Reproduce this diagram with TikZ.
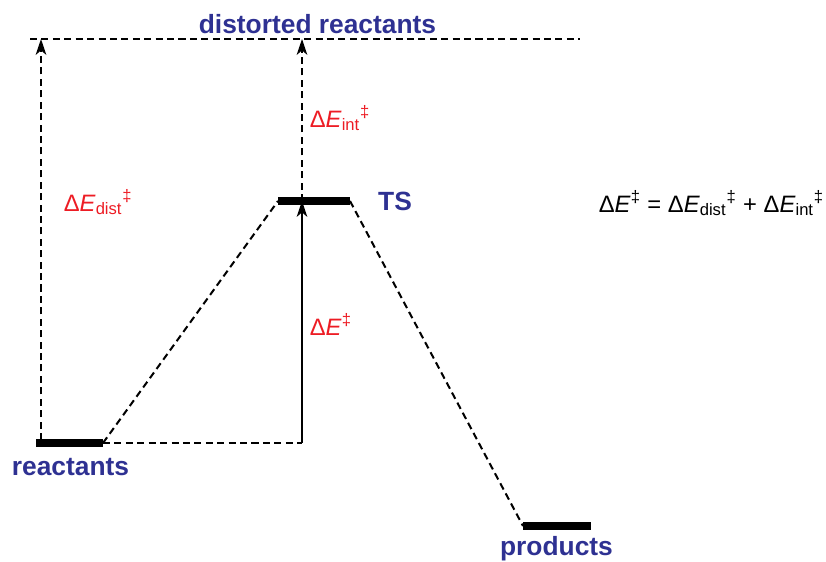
\documentclass[tikz,border=0pt]{standalone}
\usepackage{fontspec}
\setmainfont{Liberation Sans}
\usetikzlibrary{arrows.meta}
\definecolor{lblue}{RGB}{46,49,146}
\definecolor{lred}{RGB}{237,28,36}
\newcommand{\dEsub}[1]{Δ\textit{E}\textsubscript{#1}\textsuperscript{‡}}

\begin{document}
\begin{tikzpicture}[line width=1.15pt,>={Stealth[length=9pt,width=6pt,inset=2.5pt]},
  lvl/.style={line width=4.5pt},
  dsh/.style={dash pattern=on 4pt off 2.5pt},
  stname/.style={text=lblue,anchor=base,font=\fontsize{15}{18}\selectfont\bfseries},
  elab/.style={text=lred,anchor=base west,font=\fontsize{13.5}{16}\selectfont}]
\useasboundingbox (0,0) rectangle (16.52,11.22);
% ================= levels =================
\coordinate (rL) at (0.72,2.36);  \coordinate (rR) at (2.06,2.36);
\coordinate (tL) at (5.56,7.20);  \coordinate (tR) at (7.00,7.20);
\coordinate (pL) at (10.46,0.70); \coordinate (pR) at (11.82,0.70);
\draw[lvl] (rL) -- (rR);
\draw[lvl] (tL) -- (tR);
\draw[lvl] (pL) -- (pR);
% ================= reaction path =================
\draw[dsh] (rR) -- (tL);
\draw[dsh] (tR) -- (pL);
\coordinate (aB) at (6.04,2.36);
\coordinate (aT) at (6.04,7.20);
\draw[dsh] (rR) -- (aB);
\draw[->,line width=0.75pt] (aB) -- (aT);
% ================= distorted reactants =================
\coordinate (dL) at (0.60,10.44); \coordinate (dR) at (11.60,10.44);
\draw[dsh] (dL) -- (dR);
\coordinate (dA) at (0.82,10.44); \coordinate (rA) at (0.82,2.42);
\coordinate (dB) at (6.04,10.44);
\draw[dsh,->] (rA) -- (dA);
\draw[dsh,->] (aT) -- (dB);
% ================= labels =================
\node[stname] (dist) at (6.35,10.54) {distorted reactants};
\node[stname] (ts) at (7.90,7.02) {TS};
\node[stname] (reac) at (1.41,1.72) {reactants};
\node[stname] (prod) at (11.13,0.12) {products};
\node[elab] (eint) at (6.06,8.68) {\dEsub{int}};
\node[elab] (edist) at (1.14,7.00) {\dEsub{dist}};
\node[elab] (eact) at (6.06,4.52) {Δ\textit{E}\textsuperscript{‡}};
\node[elab,text=black] (eq) at (11.84,6.98) {Δ\textit{E}\textsuperscript{‡} = \dEsub{dist} + \dEsub{int}};
\end{tikzpicture}
\end{document}
